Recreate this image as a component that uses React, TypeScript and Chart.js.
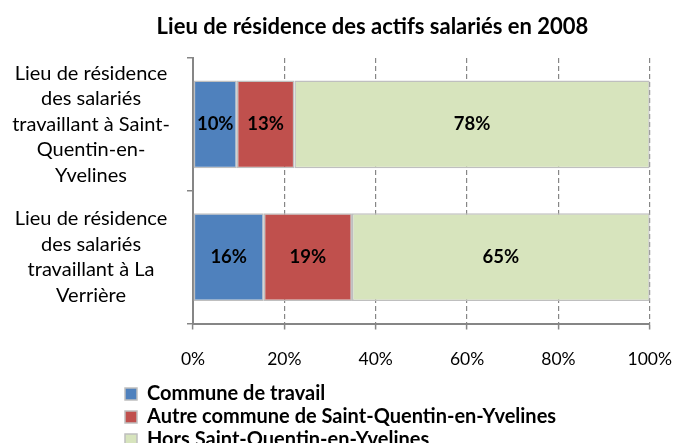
import React, { useEffect, useRef } from 'react';
import { Chart, registerables } from 'chart.js';

Chart.register(...registerables);

const chartTitle = 'Lieu de résidence des actifs salariés en 2008';
const categories = [
  ['Lieu de résidence', 'des salariés', 'travaillant à Saint-', 'Quentin-en-', 'Yvelines'],
  ['Lieu de résidence', 'des salariés', 'travaillant à La', 'Verrière'],
];
const seriesNames = [
  'Commune de travail',
  'Autre commune de Saint-Quentin-en-Yvelines',
  'Hors Saint-Quentin-en-Yvelines',
];
const communeDeTravail = [9.6, 15.5];
const autreCommuneSQY = [12.6, 19.3];
const horsSQY = [77.8, 65.2];
const xTickValues = [0, 20, 40, 60, 80, 100];
const seriesColors = ['#4F81BD', '#C0504D', '#D7E4BD'];

const FONT = 'Lato, "Noto Sans", sans-serif';
const GRAY = '#868686';
const Y_LABEL_SIZE = 20;

const dataLabels = {
  id: 'dataLabels',
  afterDatasetsDraw(chart: any) {
    const ctx = chart.ctx;
    ctx.save();
    ctx.font = `bold 18.5px ${FONT}`;
    ctx.fillStyle = '#000';
    ctx.textAlign = 'center';
    ctx.textBaseline = 'middle';
    chart.data.datasets.forEach((ds: any, i: number) => {
      const meta = chart.getDatasetMeta(i);
      meta.data.forEach((el: any, j: number) => {
        const v = ds.data[j];
        const cx = (el.x + el.base) / 2;
        ctx.fillText(Math.round(v) + '%', cx, el.y);
      });
    });
    ctx.restore();
  },
};

const titleSpan = {
  id: 'titleSpan',
  afterLayout(chart: any) {
    const t = chart.titleBlock;
    if (t) {
      t.left = 54;
      t.right = chart.width;
    }
  },
};

export default function App() {
  const ref = useRef<HTMLCanvasElement | null>(null);

  useEffect(() => {
    if (!ref.current) return;
    const seriesValues = [communeDeTravail, autreCommuneSQY, horsSQY];

    const mctx = document.createElement('canvas').getContext('2d') as CanvasRenderingContext2D;
    mctx.font = `normal ${Y_LABEL_SIZE}px ${FONT}`;
    let widest = 0;
    categories.forEach((lines) => lines.forEach((l) => { widest = Math.max(widest, mctx.measureText(l).width); }));
    const yLabelCenter = 91;
    const axisX = 193;
    const yPad = yLabelCenter - axisX - widest / 2;

    const chart = new Chart(ref.current, {
      type: 'bar',
      data: {
        labels: categories as any,
        datasets: seriesNames.map((name, i) => ({
          label: name,
          data: seriesValues[i],
          backgroundColor: seriesColors[i],
          borderColor: '#BFBFBF',
          borderWidth: 1.5,
          borderSkipped: false,
          barPercentage: 0.66,
          categoryPercentage: 1,
        })),
      },
      options: {
        indexAxis: 'y',
        animation: false,
        responsive: false,
        maintainAspectRatio: false,
        devicePixelRatio: 1,
        layout: { padding: { left: 122, right: 41, top: 0, bottom: 0 } },
        scales: {
          x: {
            stacked: true,
            min: 0,
            max: 100,
            afterBuildTicks: (s: any) => {
              s.ticks = xTickValues.map((v) => ({ value: v }));
            },
            afterFit: (s: any) => {
              s.height = 57.5;
            },
            ticks: {
              callback: (v: any) => v + '%',
              color: '#000',
              padding: 19,
              font: { family: FONT, size: 17.5, lineHeight: 1.2 },
            },
            grid: {
              color: (c: any) => (c.tick && c.tick.value === 0 ? 'rgba(0,0,0,0)' : GRAY),
              lineWidth: 1.2,
              tickColor: GRAY,
              tickWidth: 1.5,
              tickLength: 6,
            },
            border: { display: true, color: GRAY, width: 2, dash: [5, 3] },
          },
          y: {
            stacked: true,
            afterFit: (s: any) => {
              s.width = axisX - 122;
              s.paddingTop = 0;
              s.paddingBottom = 0;
            },
            ticks: {
              autoSkip: false,
              mirror: true,
              crossAlign: 'center',
              color: '#000',
              padding: yPad,
              font: { family: FONT, size: Y_LABEL_SIZE, lineHeight: '25.5px' },
            },
            grid: {
              drawOnChartArea: false,
              offset: true,
              tickLength: 6,
              color: GRAY,
              lineWidth: 1.5,
            },
            border: { display: true, color: GRAY, width: 2 },
          },
        },
        plugins: {
          title: {
            display: true,
            text: chartTitle,
            color: '#000',
            font: { family: FONT, size: 22, weight: 'bold', lineHeight: 1.2 },
            padding: { top: 13.8, bottom: 17.8 },
          },
          legend: {
            position: 'bottom',
            align: 'start',
            labels: {
              boxWidth: 12,
              boxHeight: 12,
              padding: 3,
              color: '#000',
              font: { family: FONT, size: 20, weight: 'bold' },
            },
          },
          tooltip: { enabled: false },
        },
      },
      plugins: [dataLabels, titleSpan],
    } as any);
    return () => chart.destroy();
  }, []);

  return (
    <div style={{ position: 'absolute', left: 0, top: 0, width: 691, height: 443, overflow: 'hidden', background: '#fff' }}>
      <canvas ref={ref} width={691} height={460} style={{ display: 'block', width: 691, height: 460 }} />
    </div>
  );
}
